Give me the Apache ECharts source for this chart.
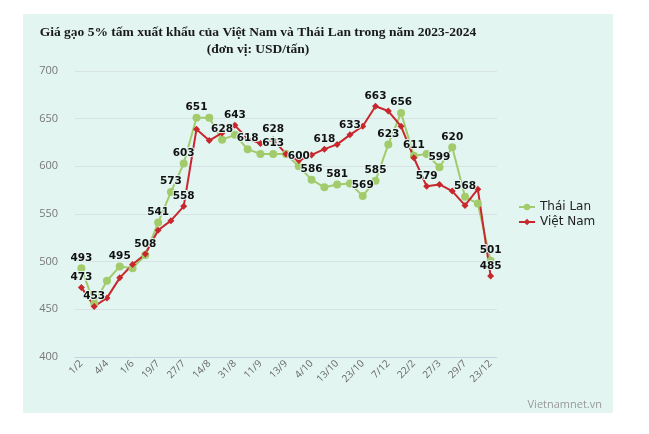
<!DOCTYPE html>
<html>
<head>
<meta charset="utf-8">
<script src="https://cdn.jsdelivr.net/npm/echarts@6/dist/echarts.min.js"></script>
<style>
  html, body { margin: 0; padding: 0; background: #fff; }
  #chart { width: 649px; height: 434px; }
</style>
</head>
<body>
<div id="chart"></div>
<script>
// ngày (chỉ hiện nhãn ở các điểm chẵn)
var dates = ['1/2', '', '4/4', '', '1/6', '', '19/7', '', '27/7', '', '14/8', '', '31/8', '', '11/9', '', '13/9',
  '', '4/10', '', '13/10', '', '23/10', '', '7/12', '', '22/2', '', '27/3', '', '29/7', '', '23/12'];

var thaiLan = [493, 456, 480, 495, 493, 507, 541, 573, 603, 651, 651, 628, 633, 618, 613, 613, 613,
  600, 586, 578, 581, 582, 569, 585, 623, 656, 611, 613, 599, 620, 568, 561, 501];
var vietNam = [473, 453, 462, 483, 497, 508, 533, 543, 558, 639, 627, 635, 643, 629, 624, 628, 613,
  606, 612, 618, 623, 633, 642, 663, 658, 642, 609, 579, 581, 574, 559, 576, 485];

// điểm có hiện nhãn số
var thaiLabelIdx = [0, 3, 6, 7, 8, 9, 11, 13, 15, 17, 18, 20, 22, 23, 24, 25, 26, 28, 29, 30, 32];
var vnLabelIdx = [0, 1, 5, 8, 12, 15, 19, 21, 23, 27, 32];

function withLabels(values, idx) {
  return values.map(function (v, i) {
    return { value: v, label: { show: idx.indexOf(i) >= 0 } };
  });
}

var labelStyle = {
  position: 'top',
  distance: 1,
  color: '#111',
  fontFamily: 'DejaVu Sans',
  fontWeight: 'bold',
  fontSize: 10.5,
  textBorderColor: '#e3f5f1',
  textBorderWidth: 2
};

var chart = echarts.init(document.getElementById('chart'));
chart.setOption({
  animation: false,
  graphic: [{
    type: 'rect',
    z: -10,
    shape: { x: 23, y: 14, width: 590, height: 399 },
    style: { fill: '#e3f5f1' }
  }],
  title: [{
    text: 'Giá gạo 5% tấm xuất khẩu của Việt Nam và Thái Lan trong năm 2023-2024\n(đơn vị: USD/tấn)',
    left: 258,
    top: 24,
    padding: 0,
    textAlign: 'center',
    textStyle: {
      fontFamily: 'Liberation Serif',
      fontWeight: 'bold',
      fontSize: 13.5,
      lineHeight: 17,
      color: '#1a1a1a'
    }
  }, {
    text: 'Vietnamnet.vn',
    right: 47,
    top: 399,
    padding: 0,
    textStyle: { fontFamily: 'Open Sans', fontWeight: 'normal', fontSize: 11, color: '#999' }
  }],
  legend: {
    orient: 'vertical',
    left: 513,
    top: 196,
    itemGap: 3,
    itemWidth: 16,
    itemHeight: 8,
    textStyle: { fontFamily: 'DejaVu Sans', fontSize: 12, color: '#222' },
    data: ['Thái Lan', 'Việt Nam']
  },
  grid: { left: 75, right: 152, top: 71, bottom: 77 },
  xAxis: {
    type: 'category',
    data: dates,
    boundaryGap: true,
    axisTick: { show: false },
    axisLine: { lineStyle: { color: '#c3d3e2' } },
    axisLabel: {
      interval: 0,
      rotate: 45,
      margin: 5,
      fontFamily: 'Open Sans',
      fontSize: 10,
      color: '#666'
    }
  },
  yAxis: {
    type: 'value',
    min: 400,
    max: 700,
    interval: 50,
    axisLabel: { fontFamily: 'Open Sans', fontSize: 11, color: '#777', margin: 17 },
    splitLine: { lineStyle: { color: '#d6e2e4' } }
  },
  series: [{
    name: 'Thái Lan',
    type: 'line',
    data: withLabels(thaiLan, thaiLabelIdx),
    symbol: 'circle',
    symbolSize: 8,
    color: '#a2cc6c',
    lineStyle: { width: 2 },
    label: labelStyle
  }, {
    name: 'Việt Nam',
    type: 'line',
    data: withLabels(vietNam, vnLabelIdx),
    symbol: 'diamond',
    symbolSize: 7,
    color: '#c7272d',
    lineStyle: { width: 2 },
    label: labelStyle
  }]
});
</script>
</body>
</html>
